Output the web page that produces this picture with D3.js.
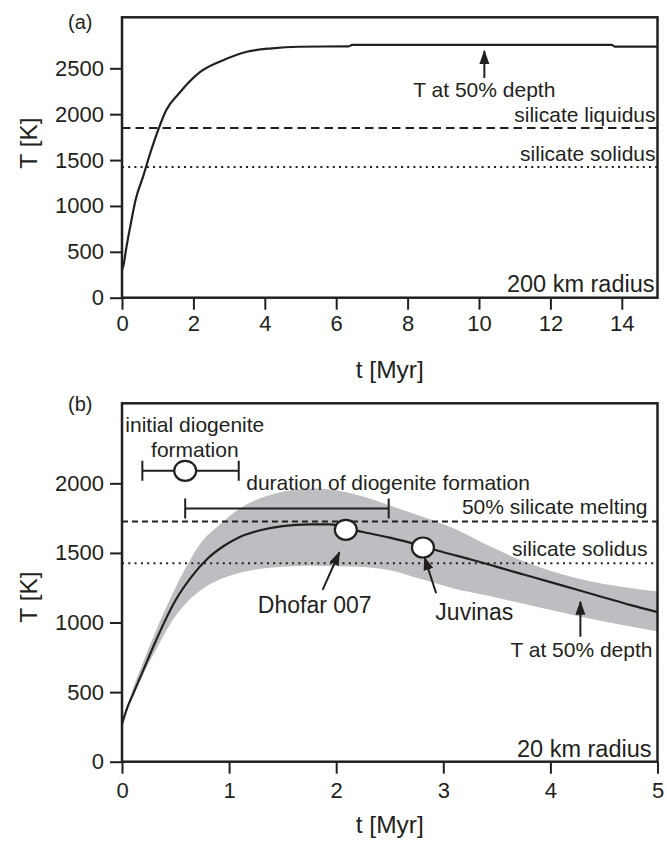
<!DOCTYPE html>
<html>
<head>
<meta charset="utf-8">
<script src="https://cdn.jsdelivr.net/npm/d3@7"></script>
<style>
  body { margin: 0; background: #fff; }
  svg text { font-family: "Liberation Sans", Arial, Helvetica, sans-serif; fill: #231f20; }
</style>
</head>
<body>
<svg id="chart"></svg>
<script>
// (a) 200 km radius body, temperature at 50% depth
var aTime = [0, 0.05, 0.12, 0.23, 0.38, 0.59, 0.79, 1.03, 1.24, 1.6, 2.2, 2.8, 3.5, 4.2, 4.95, 6.35, 6.45, 13.72, 13.8, 15];
var aTemp = [300, 370, 540, 774, 1065, 1319, 1574, 1846, 2046, 2228, 2463, 2583, 2681, 2718, 2735, 2740, 2755, 2755, 2737, 2737];
var aTicksX = [0, 2, 4, 6, 8, 10, 12, 14];
var aTicksY = [0, 500, 1000, 1500, 2000, 2500];
var aRefTemps = [1850, 1425];
var aRefNames = ["silicate liquidus", "silicate solidus"];

// (b) 20 km radius body
var bTime = [0, 0.05, 0.1, 0.2, 0.3, 0.4, 0.5, 0.65, 0.8, 0.95, 1.1, 1.3, 1.5, 1.75, 1.95, 2.1, 2.25, 2.5, 2.8, 3.0, 3.25, 3.5, 3.75, 4.0, 4.25, 4.5, 4.75, 5.0];
var bTemp = [270, 390, 480, 660, 840, 1010, 1160, 1330, 1460, 1550, 1615, 1665, 1693, 1705, 1705, 1675, 1650, 1610, 1550, 1505, 1455, 1400, 1345, 1290, 1235, 1180, 1125, 1075];
var bandTime = [0, 0.1, 0.2, 0.3, 0.45, 0.6, 0.75, 0.9, 1.1, 1.4, 1.6, 1.8, 2.0, 2.25, 2.5, 2.8, 3.1, 3.4, 3.75, 4.05, 4.35, 4.65, 5.0];
var bandLow = [270, 460, 630, 780, 990, 1140, 1240, 1305, 1358, 1395, 1405, 1408, 1405, 1398, 1375, 1310, 1245, 1195, 1135, 1082, 1030, 985, 935];
var bandHigh = [270, 520, 720, 910, 1170, 1400, 1585, 1695, 1820, 1920, 1952, 1962, 1950, 1905, 1840, 1762, 1675, 1560, 1440, 1360, 1300, 1258, 1222];
var bTicksX = [0, 1, 2, 3, 4, 5];
var bTicksY = [0, 500, 1000, 1500, 2000];
var bRefTemps = [1725, 1425];
var bRefNames = ["50% silicate melting", "silicate solidus"];
var meteorNames = ["Dhofar 007", "Juvinas"];
var meteorTime = [2.09, 2.81];
var meteorTemp = [1666, 1539];
var initialTime = [0.19, 0.59, 1.09]; // min, best, max
var initialTemp = 2090;
var durationTime = [0.59, 2.49];
var durationTemp = 1820;

var ink = "#231f20";
var svg = d3.select("#chart").attr("width", 667).attr("height", 844);
var left = 122, right = 657.5;

svg.append("defs").append("marker")
    .attr("id", "head")
    .attr("markerUnits", "userSpaceOnUse")
    .attr("viewBox", "0 -6 14 12")
    .attr("refX", 13).attr("refY", 0)
    .attr("markerWidth", 14).attr("markerHeight", 12)
    .attr("orient", "auto")
  .append("path")
    .attr("d", "M0,-5L14,0L0,5Z")
    .attr("fill", ink);

function makePanel(top, bottom, xMax, yMax, ticksX, ticksY, padX) {
  var w = right - left, h = bottom - top;
  var g = svg.append("g").attr("transform", "translate(" + left + "," + top + ")");
  var x = d3.scaleLinear().domain([0, xMax]).range([0, w]);
  var y = d3.scaleLinear().domain([0, yMax]).range([h, 0]);
  return { g: g, x: x, y: y, w: w, h: h, ticksX: ticksX, ticksY: ticksY, padX: padX };
}

function finishPanel(p) {
  var gx = p.g.append("g")
      .attr("transform", "translate(0," + p.h + ")")
      .call(d3.axisBottom(p.x).tickValues(p.ticksX).tickFormat(d3.format("d"))
          .tickSize(12).tickSizeOuter(0).tickPadding(p.padX));
  var gy = p.g.append("g")
      .call(d3.axisLeft(p.y).tickValues(p.ticksY).tickFormat(d3.format("d"))
          .tickSize(12).tickSizeOuter(0).tickPadding(6));
  [gx, gy].forEach(function(a) {
    a.select(".domain").remove();
    a.selectAll(".tick line").attr("stroke", ink).attr("stroke-width", 2);
    a.selectAll(".tick text").attr("fill", ink).style("font-size", "22px")
        .style("font-family", "'Liberation Sans', Arial, sans-serif");
  });
  p.g.append("rect")
      .attr("width", p.w).attr("height", p.h)
      .attr("fill", "none").attr("stroke", ink).attr("stroke-width", 2.5);
}

function refLine(p, temp, dash) {
  p.g.append("line")
      .attr("x1", 0).attr("x2", p.w)
      .attr("y1", p.y(temp)).attr("y2", p.y(temp))
      .attr("stroke", ink).attr("stroke-width", 2)
      .attr("stroke-dasharray", dash);
}

function label(p, xp, yp, txt, anchor, size) {
  return p.g.append("text")
      .attr("x", xp).attr("y", yp)
      .attr("text-anchor", anchor || "start")
      .style("font-size", (size || 21) + "px")
      .text(txt);
}

function arrow(p, t0, T0, t1, T1) {
  p.g.append("line")
      .attr("x1", p.x(t0)).attr("y1", p.y(T0))
      .attr("x2", p.x(t1)).attr("y2", p.y(T1))
      .attr("stroke", ink).attr("stroke-width", 2)
      .attr("marker-end", "url(#head)");
}

function ring(p, t, T) {
  p.g.append("ellipse")
      .attr("cx", p.x(t)).attr("cy", p.y(T))
      .attr("rx", 11).attr("ry", 10)
      .attr("fill", "#fff").attr("stroke", ink).attr("stroke-width", 2.2);
}

function errBar(p, t0, t1, T) {
  var yy = p.y(T);
  p.g.append("path")
      .attr("d", "M" + p.x(t0) + "," + (yy - 10) + "V" + (yy + 10) +
                 "M" + p.x(t0) + "," + yy + "H" + p.x(t1) +
                 "M" + p.x(t1) + "," + (yy - 10) + "V" + (yy + 10))
      .attr("fill", "none").attr("stroke", ink).attr("stroke-width", 2);
}

// ---------- panel (a)
var pa = makePanel(17.3, 297.7, 15, 3056, aTicksX, aTicksY, 6);
refLine(pa, aRefTemps[0], "8.5,5");
refLine(pa, aRefTemps[1], "2,4.2");
label(pa, pa.w - 2, pa.y(aRefTemps[0]) - 6, aRefNames[0], "end");
label(pa, pa.w - 2, pa.y(aRefTemps[1]) - 6, aRefNames[1], "end");

var lineA = d3.line()
    .x(function(d, i) { return pa.x(aTime[i]); })
    .y(function(d) { return pa.y(d); })
    .curve(d3.curveMonotoneX);
pa.g.append("path")
    .datum(aTemp)
    .attr("fill", "none").attr("stroke", ink).attr("stroke-width", 2.2)
    .attr("d", lineA);

arrow(pa, 10.15, 2394, 10.15, 2690);
label(pa, pa.x(10.15), pa.y(2190), "T at 50% depth", "middle");
label(pa, pa.w - 3, pa.h - 6, "200 km radius", "end", 23.5);
finishPanel(pa);

svg.append("text").attr("x", 68).attr("y", 29).style("font-size", "20px").text("(a)");
svg.append("text").attr("x", (left + right) / 2).attr("y", 378).attr("text-anchor", "middle")
    .style("font-size", "24.5px").text("t [Myr]");
svg.append("text").attr("transform", "translate(37,143) rotate(-90)").attr("text-anchor", "middle")
    .style("font-size", "24.5px").text("T [K]");

// ---------- panel (b)
var pb = makePanel(403.3, 761.7, 5, 2575, bTicksX, bTicksY, 9);

var band = d3.area()
    .x(function(d, i) { return pb.x(bandTime[i]); })
    .y0(function(d, i) { return pb.y(bandLow[i]); })
    .y1(function(d) { return pb.y(d); })
    .curve(d3.curveMonotoneX);
pb.g.append("path")
    .datum(bandHigh)
    .attr("fill", "#bdbec1")
    .attr("d", band);

refLine(pb, bRefTemps[0], "6,4");
refLine(pb, bRefTemps[1], "2,4.3");
label(pb, pb.w - 10, pb.y(bRefTemps[0]) - 8, bRefNames[0], "end");
label(pb, pb.w - 10, pb.y(bRefTemps[1]) - 7, bRefNames[1], "end");

var lineB = d3.line()
    .x(function(d, i) { return pb.x(bTime[i]); })
    .y(function(d) { return pb.y(d); })
    .curve(d3.curveMonotoneX);
pb.g.append("path")
    .datum(bTemp)
    .attr("fill", "none").attr("stroke", ink).attr("stroke-width", 2.2)
    .attr("d", lineB);

// diogenite formation bars
errBar(pb, initialTime[0], initialTime[2], initialTemp);
ring(pb, initialTime[1], initialTemp);
label(pb, pb.x(0.68), pb.y(initialTemp) - 39, "initial diogenite", "middle");
label(pb, pb.x(0.68), pb.y(initialTemp) - 14, "formation", "middle");
errBar(pb, durationTime[0], durationTime[1], durationTemp);
label(pb, pb.x(1.16), pb.y(durationTemp) - 18, "duration of diogenite formation", "start");

// meteorites
arrow(pb, 1.873, 1234, 2.03, 1505);
arrow(pb, 2.933, 1210, 2.824, 1470);
meteorNames.forEach(function(n, i) { ring(pb, meteorTime[i], meteorTemp[i]); });
label(pb, pb.x(1.80), pb.y(1066), meteorNames[0], "middle", 23);
label(pb, pb.x(3.29), pb.y(1018), meteorNames[1], "middle", 23);

arrow(pb, 4.28, 898, 4.28, 1150);
label(pb, pb.x(4.29), pb.y(754), "T at 50% depth", "middle");
label(pb, pb.w - 6, pb.h - 5, "20 km radius", "end", 23.5);
finishPanel(pb);

svg.append("text").attr("x", 68).attr("y", 411).style("font-size", "20px").text("(b)");
svg.append("text").attr("x", (left + right) / 2).attr("y", 833).attr("text-anchor", "middle")
    .style("font-size", "24.5px").text("t [Myr]");
svg.append("text").attr("transform", "translate(37,597) rotate(-90)").attr("text-anchor", "middle")
    .style("font-size", "24.5px").text("T [K]");
</script>
</body>
</html>
